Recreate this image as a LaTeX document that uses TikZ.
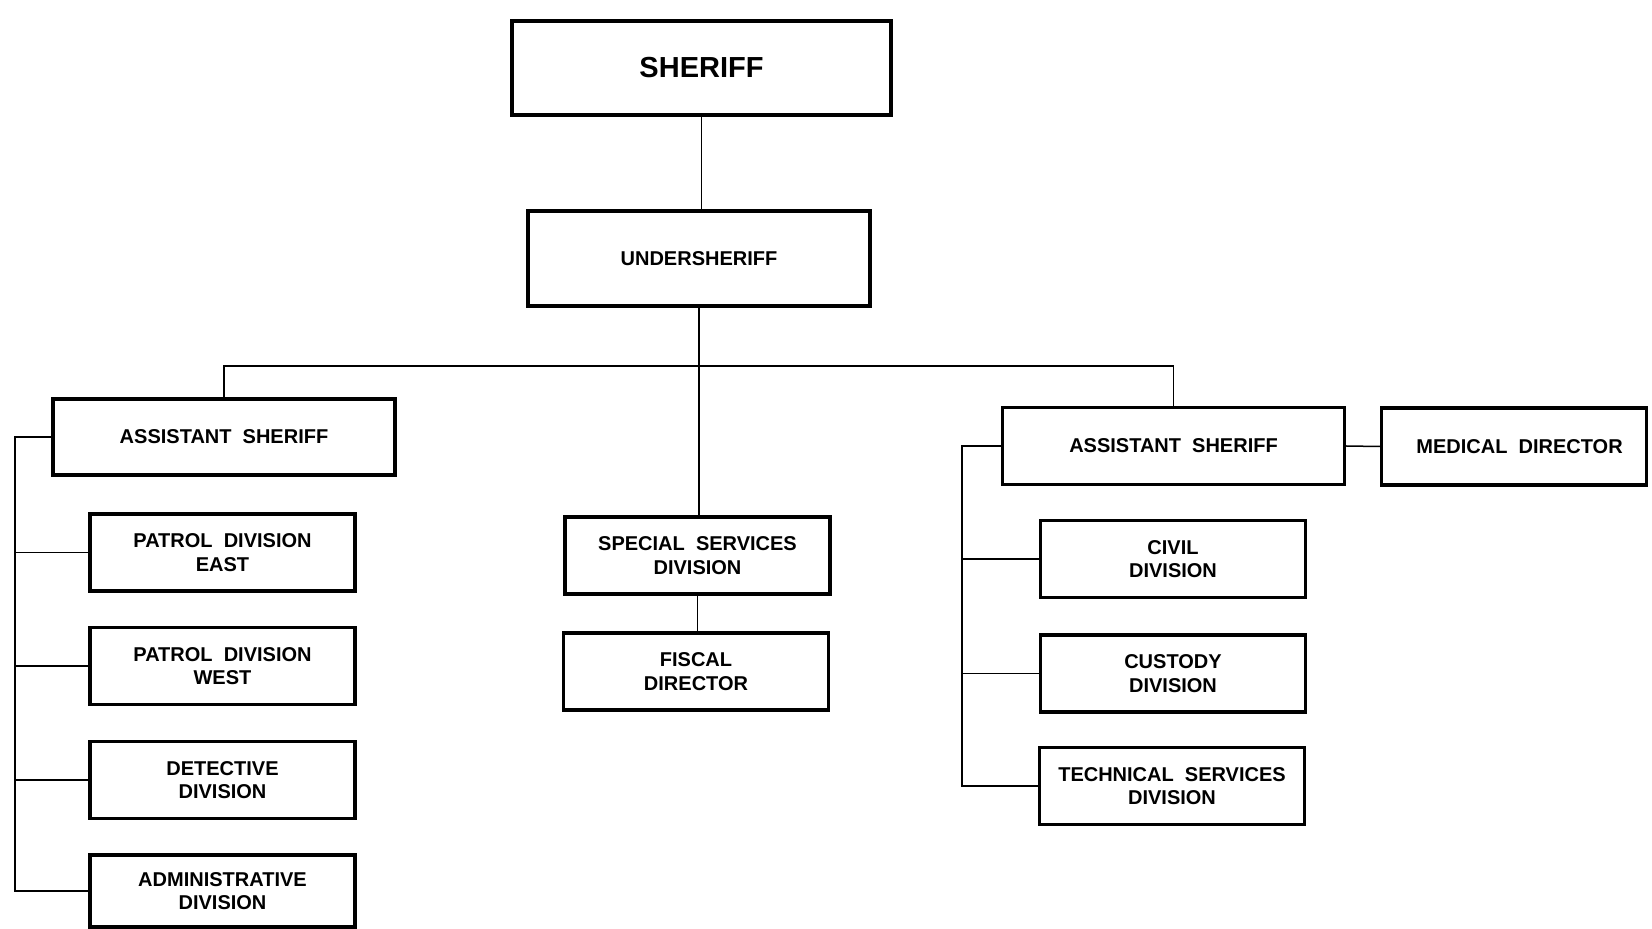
\documentclass[tikz,border=0pt]{standalone}
\usepackage{fontspec}
\setmainfont{Liberation Sans}
\usepackage{tikz}
\usetikzlibrary{positioning}

\begin{document}
\begin{tikzpicture}[x=0.5pt, y=-0.5pt, line width=0.75pt,
  unit/.style={draw, line width=1.6pt, align=center, inner sep=0pt,
    font=\fontsize{10}{11.8}\selectfont\bfseries, minimum width=132.5pt, minimum height=38.5pt},
  wideunit/.style={unit, minimum width=171pt},
  topunit/.style={unit, minimum width=189.5pt, minimum height=47pt,
    font=\fontsize{14.5}{16}\selectfont\bfseries}]

  \useasboundingbox (0,0) rectangle (1652,929);

  \node[topunit] (sheriff) at (701.5,68) {SHERIFF};
  \node[wideunit, minimum height=47.5pt] (under) at (699,258.5) {UNDERSHERIFF};

  \node[wideunit, minimum height=38pt] (asL) at (224,437) {ASSISTANT\ \ SHERIFF};
  \node[unit] (pe)  at (222.5,552.5) {PATROL\ \ DIVISION\\EAST};
  \node[unit] (pw)  at (222.5,666)   {PATROL\ \ DIVISION\\WEST};
  \node[unit] (det) at (222.5,780)   {DETECTIVE\\DIVISION};
  \node[unit, minimum height=36pt] (adm) at (222.5,891) {ADMINISTRATIVE\\DIVISION};

  \node[unit] (ss)  at (697.5,555.5) {SPECIAL\ \ SERVICES\\DIVISION};
  \node[unit] (fis) at (696,671.5)   {FISCAL\\DIRECTOR};

  \node[wideunit] (asR) at (1173.5,446) {ASSISTANT\ \ SHERIFF};
  \node[unit] (med) at (1514,446.5) {\ \ MEDICAL\ \ DIRECTOR};
  \node[unit] (civ) at (1173,559)   {CIVIL\\DIVISION};
  \node[unit] (cus) at (1173,673.5) {CUSTODY\\DIVISION};
  \node[unit] (tec) at (1172,786)   {TECHNICAL\ \ SERVICES\\DIVISION};

  \coordinate (bus) at (698,366);
  \coordinate (spL) at (15,437);
  \coordinate (spR) at (962,446);

  \draw (sheriff.south) -- (sheriff.south |- under.north);
  \draw (under.south) -- (under.south |- ss.north);
  \draw (asL.north) |- (bus) -| (asR.north);
  \draw (ss.south) -- (ss.south |- fis.north);
  \draw (asR.east) -- (med.west);

  \draw (asL.west) -- (spL) |- (adm.west);
  \foreach \n in {pe,pw,det}
    \draw (\n.west) -- (\n.west -| spL);

  \draw (asR.west) -- (spR) |- (tec.west);
  \foreach \n in {civ,cus}
    \draw (\n.west) -- (\n.west -| spR);

\end{tikzpicture}
\end{document}
